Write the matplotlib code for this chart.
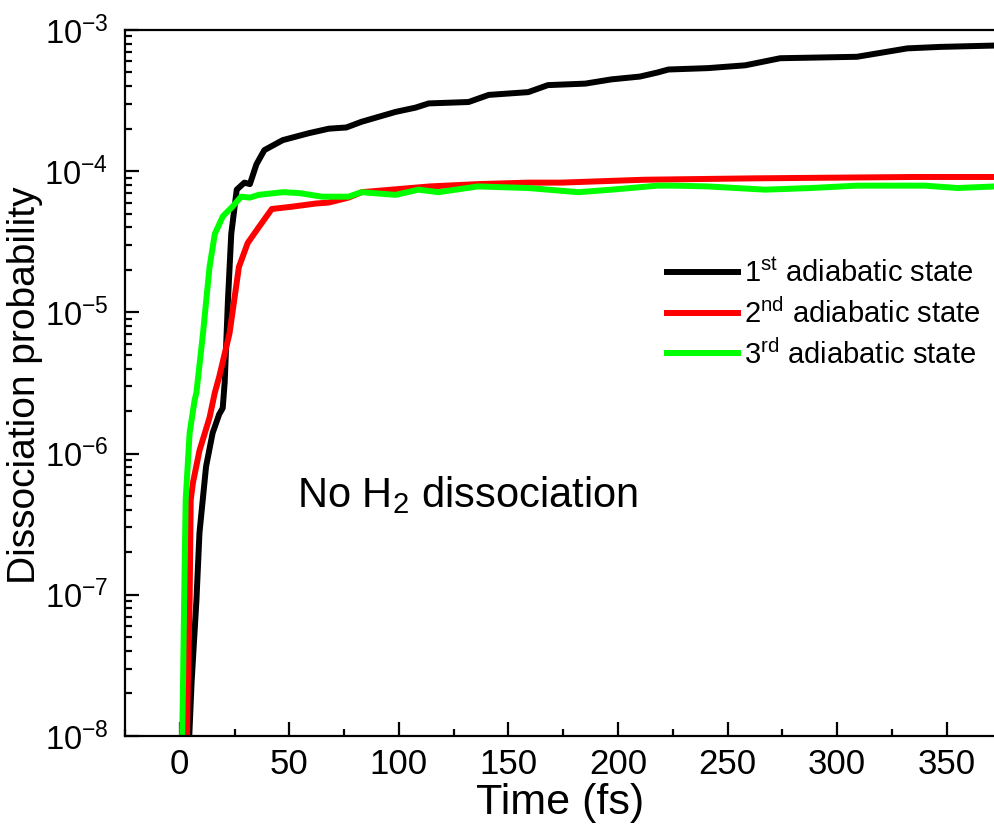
import matplotlib
matplotlib.use('Agg')
import matplotlib.pyplot as plt
from matplotlib.ticker import LogLocator, MultipleLocator, NullFormatter

plt.rcParams['font.family'] = ['Liberation Sans', 'DejaVu Sans']
plt.rcParams['mathtext.fontset'] = 'custom'
plt.rcParams['mathtext.rm'] = 'Liberation Sans'
plt.rcParams['mathtext.it'] = 'Liberation Sans:italic'
plt.rcParams['mathtext.bf'] = 'Liberation Sans:bold'
plt.rcParams['mathtext.default'] = 'regular'

# time (fs) and dissociation probability
t1 = [3.5, 5.4, 7.6, 9, 12, 15, 18, 19.6, 20.5, 22, 23.5, 26, 29.5, 32, 35, 38.6,
      47, 59, 68, 76, 83, 98.5, 107.6, 113.6, 131.8, 141, 159, 168, 185, 197, 210,
      218, 223, 241, 258, 274, 309, 332, 347, 372]
p1 = [5e-9, 2.4e-8, 9.1e-8, 2.75e-7, 8.1e-7, 1.4e-6, 1.9e-6, 2.1e-6, 3.2e-6, 1.23e-5,
      3.6e-5, 7.4e-5, 8.3e-5, 8.1e-5, 1.12e-4, 1.41e-4, 1.66e-4, 1.86e-4, 2.0e-4, 2.04e-4,
      2.24e-4, 2.63e-4, 2.82e-4, 3.02e-4, 3.09e-4, 3.47e-4, 3.63e-4, 4.07e-4, 4.17e-4,
      4.47e-4, 4.68e-4, 5.0e-4, 5.25e-4, 5.37e-4, 5.62e-4, 6.31e-4, 6.46e-4, 7.41e-4,
      7.59e-4, 7.76e-4]

t2 = [3.0, 3.7, 4.5, 5, 6, 9, 13.6, 16, 18, 22.7, 27, 31, 36, 42, 51, 62, 68, 77, 83,
      114, 136, 159, 174, 212, 262, 335, 372]
p2 = [5e-9, 2.4e-8, 9.1e-8, 4.7e-7, 6.2e-7, 1.05e-6, 1.8e-6, 2.7e-6, 3.5e-6, 7.1e-6,
      2.1e-5, 3.1e-5, 4.0e-5, 5.4e-5, 5.6e-5, 5.9e-5, 6.0e-5, 6.5e-5, 7.1e-5, 7.8e-5,
      8.1e-5, 8.3e-5, 8.3e-5, 8.7e-5, 8.9e-5, 9.1e-5, 9.1e-5]

t3 = [0.8, 1.5, 2, 2.7, 4.5, 6.8, 7.6, 10.6, 13.6, 16, 19.7, 24, 28, 32, 36, 47, 54.5,
      65, 77, 83, 98.5, 109, 118, 136, 159, 182, 197, 218, 226, 241, 267, 288, 309,
      340, 355, 372]
p3 = [5e-9, 2.4e-8, 9.1e-8, 4.7e-7, 1.4e-6, 2.4e-6, 2.7e-6, 7.1e-6, 2.1e-5, 3.6e-5,
      4.8e-5, 5.6e-5, 6.6e-5, 6.5e-5, 6.8e-5, 7.1e-5, 7.0e-5, 6.6e-5, 6.6e-5, 7.1e-5,
      6.8e-5, 7.4e-5, 7.1e-5, 7.8e-5, 7.6e-5, 7.1e-5, 7.4e-5, 7.9e-5, 7.9e-5, 7.8e-5,
      7.4e-5, 7.6e-5, 7.9e-5, 7.9e-5, 7.6e-5, 7.8e-5]

labels = ['1$^{st}$ adiabatic state', '2$^{nd}$ adiabatic state', '3$^{rd}$ adiabatic state']

fig = plt.figure(figsize=(9.95, 8.24), dpi=100)
ax = fig.add_axes([0.1256, 0.1068, 0.8744, 0.8568])

ax.plot(t1, p1, color='black', lw=4.3, label=labels[0])
ax.plot(t2, p2, color='#ff0000', lw=4.3, label=labels[1])
ax.plot(t3, p3, color='#00ff00', lw=4.3, label=labels[2])

ax.set_yscale('log')
ax.set_xlim(-25, 372)
ax.set_ylim(1e-8, 1e-3)

ax.xaxis.set_major_locator(MultipleLocator(50))
ax.xaxis.set_minor_locator(MultipleLocator(25))
ax.yaxis.set_major_locator(LogLocator(base=10))
ax.yaxis.set_minor_locator(LogLocator(base=10, subs=range(2, 10)))
ax.yaxis.set_minor_formatter(NullFormatter())

ax.tick_params(which='both', direction='in', width=1.6)
ax.tick_params(which='major', length=10)
ax.tick_params(which='minor', length=5)
ax.tick_params(axis='x', pad=9, labelsize=25)
ax.tick_params(axis='y', pad=12, labelsize=23.5)
ax.spines['right'].set_visible(False)
for s in ['left', 'bottom', 'top']:
    ax.spines[s].set_linewidth(1.6)

ax.set_xlabel('Time (fs)', fontsize=31, labelpad=1)
ax.set_ylabel('Dissociation probability', fontsize=28)
ax.yaxis.set_label_coords(-0.094, 0.497)

ax.text(53.6, 4.2e-7, 'No H$_2$ dissociation', fontsize=30, va='baseline', ha='left')

ax.legend(loc='upper left', bbox_to_anchor=(0.623, 0.676), frameon=False, fontsize=21,
          handlelength=2.45, handletextpad=0.2, labelspacing=0.35, borderpad=0,
          borderaxespad=0)

plt.savefig('out.png', dpi=100)
